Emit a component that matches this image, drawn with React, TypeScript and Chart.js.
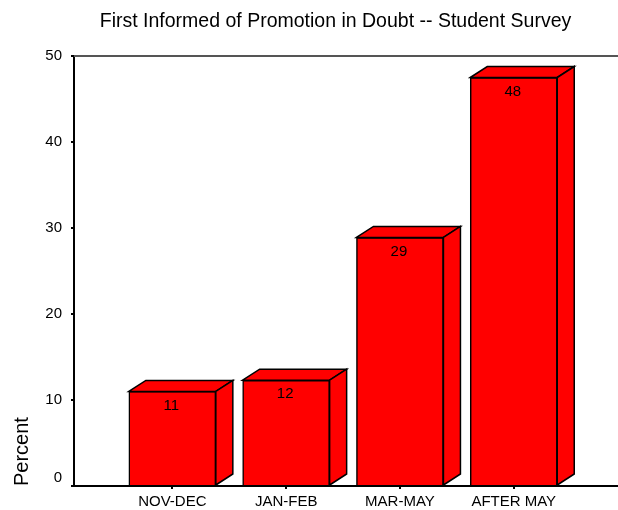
import React, { useEffect, useRef } from "react";
import { Chart, registerables } from "chart.js";

Chart.register(...registerables);

const chartTitle = "First Informed of Promotion in Doubt -- Student Survey";
const categories = ["NOV-DEC", "JAN-FEB", "MAR-MAY", "AFTER MAY"];
const percents = [11, 12.3, 28.9, 47.5];
const valueLabels = ["11", "12", "29", "48"];
const yTickValues = [0, 10, 20, 30, 40, 50];
const yAxisTitle = "Percent";

const RED = "#FF0000";
const FONT = "Arial, 'Liberation Sans', sans-serif";
const DX = 17;
const DY = 11;

const bar3d = {
  id: "bar3d",
  afterDatasetsDraw(chart: any) {
    const ctx = chart.ctx;
    const meta = chart.getDatasetMeta(0);
    ctx.save();
    ctx.lineWidth = 1.5;
    ctx.strokeStyle = "#000";
    ctx.fillStyle = RED;
    ctx.lineJoin = "miter";
    meta.data.forEach((el: any, i: number) => {
      const { x, y, width, base } = el.getProps(["x", "y", "width", "base"], true);
      const l = x - width / 2;
      const r = x + width / 2;
      ctx.beginPath();
      ctx.moveTo(l, y);
      ctx.lineTo(l + DX, y - DY);
      ctx.lineTo(r + DX, y - DY);
      ctx.lineTo(r, y);
      ctx.closePath();
      ctx.fill();
      ctx.stroke();
      ctx.beginPath();
      ctx.moveTo(r, y);
      ctx.lineTo(r + DX, y - DY);
      ctx.lineTo(r + DX, base - DY);
      ctx.lineTo(r, base);
      ctx.closePath();
      ctx.fill();
      ctx.stroke();
      ctx.save();
      ctx.fillStyle = "#000";
      ctx.font = `15px ${FONT}`;
      ctx.textAlign = "center";
      ctx.textBaseline = "middle";
      ctx.fillText(valueLabels[i], x - 1, y + 14);
      ctx.restore();
    });
    ctx.restore();
  },
};

const frame = {
  id: "frame",
  afterDraw(chart: any) {
    const ctx = chart.ctx;
    const a = chart.chartArea;
    ctx.save();
    ctx.strokeStyle = "#555";
    ctx.lineWidth = 2;
    ctx.beginPath();
    ctx.moveTo(a.left, a.top);
    ctx.lineTo(chart.width, a.top);
    ctx.stroke();
    ctx.fillStyle = "#000";
    ctx.font = `19.5px ${FONT}`;
    ctx.textAlign = "center";
    ctx.textBaseline = "middle";
    ctx.fillText(chartTitle, 335.5, 22);
    ctx.restore();
  },
};

export default function App() {
  const ref = useRef<HTMLCanvasElement>(null);
  useEffect(() => {
    if (!ref.current) return;
    const chart = new Chart(ref.current, {
      type: "bar",
      data: {
        datasets: [
          {
            data: percents.map((v, i) => ({ x: i + 1, y: v })),
            backgroundColor: RED,
            borderColor: "#000",
            borderWidth: 1.5,
            barThickness: 87,
          },
        ],
      },
      options: {
        responsive: false,
        animation: false,
        layout: { padding: { top: 56, left: 0, right: 0, bottom: 0 } },
        plugins: {
          legend: { display: false },
          tooltip: { enabled: false },
          title: { display: false },
        },
        scales: {
          x: {
            type: "linear",
            offset: false,
            min: 0.136,
            max: 4.916,
            afterBuildTicks: (scale: any) => {
              scale.ticks = categories.map((_, i) => ({ value: i + 1 }));
            },
            afterFit: (scale: any) => {
              scale.height = 24;
              scale.paddingLeft = 0;
              scale.paddingRight = 0;
            },
            ticks: {
              callback: (v: any) => categories[Number(v) - 1] ?? "",
              color: "#000",
              font: { family: FONT, size: 15 },
              padding: 4,
              maxRotation: 0,
              autoSkip: false,
            },
            grid: {
              offset: false,
              drawOnChartArea: false,
              tickLength: 3,
              color: "#000",
              lineWidth: 2,
            },
            border: { display: true, color: "#000", width: 2 },
          },
          y: {
            min: 0,
            max: 50,
            afterBuildTicks: (scale: any) => {
              scale.ticks = yTickValues.map((v) => ({ value: v }));
            },
            afterFit: (scale: any) => {
              scale.width = 74;
              scale.paddingTop = 0;
              scale.paddingBottom = 0;
            },
            ticks: {
              callback: (v: any) => (Number(v) === 0 ? ["0", ""] : String(v)),
              color: "#000",
              font: { family: FONT, size: 15, lineHeight: 1.1 },
              padding: 9,
            },
            grid: {
              drawOnChartArea: false,
              tickLength: 3,
              color: "#000",
              lineWidth: 2,
            },
            border: { display: true, color: "#000", width: 2 },
            title: {
              display: true,
              text: yAxisTitle,
              align: "start",
              color: "#000",
              font: { family: FONT, size: 20 },
              padding: { top: 10, bottom: 0 },
            },
          },
        },
      },
      plugins: [bar3d, frame],
    } as any);
    return () => chart.destroy();
  }, []);
  return (
    <div style={{ position: "fixed", left: 0, top: 0, width: 618, height: 510, background: "#fff" }}>
      <canvas ref={ref} width={618} height={510} style={{ display: "block", width: 618, height: 510 }} />
    </div>
  );
}
